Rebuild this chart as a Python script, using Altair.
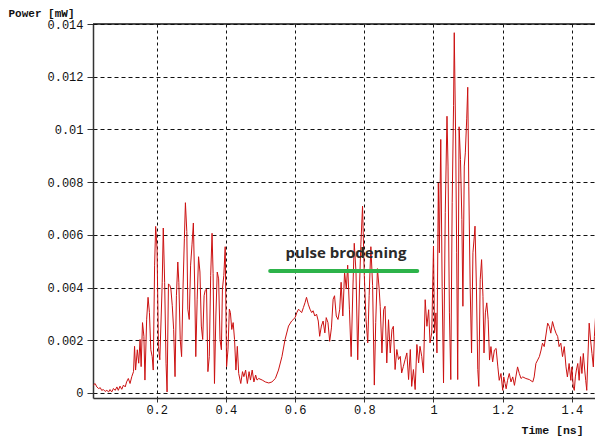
import altair as alt
import pandas as pd

# Time [ns] and power [µW], segment by segment
first_burst = [
    (0.017, 0.30), (0.022, 0.36), (0.027, 0.23), (0.032, 0.17), (0.037, 0.20), (0.041, 0.10),
    (0.046, 0.13), (0.051, 0.06), (0.056, 0.10), (0.061, 0.04), (0.065, 0.13), (0.070, 0.04),
    (0.075, 0.17), (0.080, 0.10), (0.085, 0.23), (0.089, 0.10), (0.094, 0.26), (0.099, 0.14),
    (0.104, 0.30), (0.109, 0.23), (0.113, 0.42), (0.118, 0.55), (0.123, 0.36), (0.128, 0.62),
    (0.133, 0.81), (0.136, 1.77), (0.139, 0.87), (0.144, 1.64), (0.148, 1.13), (0.152, 2.03),
    (0.155, 1.00), (0.159, 2.67), (0.163, 2.15), (0.166, 0.49), (0.171, 2.80), (0.175, 3.63),
    (0.179, 3.05), (0.183, 1.64), (0.187, 1.38), (0.190, 0.87), (0.194, 4.85), (0.197, 6.32),
    (0.201, 5.49), (0.205, 1.77), (0.209, 1.26), (0.213, 2.92), (0.216, 4.20), (0.219, 6.26),
    (0.223, 4.20), (0.227, 1.13), (0.230, 0.04), (0.234, 4.14), (0.238, 4.08), (0.241, 3.95),
    (0.245, 3.31), (0.249, 2.41), (0.253, 0.62), (0.257, 3.69), (0.261, 4.97), (0.264, 4.20),
    (0.268, 2.03), (0.272, 1.38), (0.276, 3.95), (0.280, 5.87), (0.283, 7.22), (0.287, 6.13),
    (0.290, 3.18), (0.294, 2.79), (0.298, 4.85), (0.302, 5.62), (0.306, 6.45), (0.310, 3.95),
    (0.313, 1.38), (0.317, 3.56), (0.321, 5.17), (0.325, 4.59), (0.329, 2.54), (0.333, 2.03),
    (0.337, 3.69), (0.340, 3.88), (0.344, 3.95), (0.348, 0.81), (0.352, 1.38), (0.356, 4.46),
    (0.360, 6.06), (0.363, 4.53), (0.367, 0.36), (0.371, 2.92), (0.375, 4.59), (0.379, 4.33),
    (0.383, 2.03), (0.387, 1.64), (0.390, 3.95), (0.394, 4.46), (0.398, 5.55), (0.402, 1.00),
    (0.406, 1.64), (0.410, 3.18), (0.413, 3.05), (0.417, 2.41), (0.421, 2.67), (0.425, 2.03),
    (0.429, 0.87), (0.433, 1.77), (0.437, 0.74),
]

broadened_pulse = [
    (0.443, 0.36), (0.448, 0.81), (0.452, 0.62), (0.457, 0.87), (0.462, 0.36), (0.467, 0.81),
    (0.471, 0.49), (0.476, 0.87), (0.481, 0.42), (0.486, 0.68), (0.490, 0.49), (0.495, 0.55),
    (0.505, 0.49), (0.514, 0.42), (0.524, 0.38), (0.533, 0.42), (0.543, 0.55), (0.552, 0.87),
    (0.562, 1.38), (0.571, 2.03), (0.581, 2.54), (0.590, 2.73), (0.600, 2.86), (0.605, 3.05),
    (0.610, 3.18), (0.614, 3.12), (0.619, 3.05), (0.624, 3.24), (0.629, 3.44), (0.633, 3.63),
    (0.638, 3.37), (0.643, 3.18), (0.648, 3.05), (0.652, 3.12), (0.657, 2.92), (0.662, 2.99),
    (0.667, 2.73), (0.671, 2.15), (0.676, 2.54), (0.681, 2.73), (0.686, 2.28), (0.690, 2.86),
    (0.695, 2.67), (0.700, 1.96), (0.705, 2.47), (0.710, 3.56), (0.714, 3.69), (0.719, 2.92),
    (0.724, 2.79), (0.729, 3.18), (0.733, 4.20), (0.738, 2.92), (0.743, 4.59), (0.748, 3.95),
    (0.752, 4.85), (0.757, 3.18), (0.762, 1.38), (0.767, 3.95), (0.771, 5.68), (0.776, 4.59),
    (0.781, 1.26), (0.786, 3.95), (0.790, 5.62), (0.795, 7.09), (0.800, 4.46), (0.805, 2.79),
    (0.810, 1.90), (0.814, 3.69), (0.819, 5.55), (0.824, 4.08), (0.829, 0.30), (0.833, 2.67),
    (0.838, 4.72), (0.843, 3.95),
]

main_burst = [
    (0.846, 3.29), (0.851, 1.52), (0.856, 3.16), (0.860, 3.29), (0.865, 1.14), (0.870, 2.78),
    (0.875, 1.52), (0.880, 2.41), (0.884, 2.53), (0.889, 0.89), (0.894, 1.65), (0.899, 1.27),
    (0.904, 1.39), (0.908, 0.76), (0.913, 1.01), (0.918, 1.27), (0.923, 1.52), (0.928, 0.51),
    (0.933, 1.65), (0.937, 0.25), (0.942, 0.89), (0.947, 0.13), (0.952, 1.84), (0.957, 1.14),
    (0.961, 1.77), (0.966, 1.39), (0.971, 0.76), (0.976, 3.54), (0.981, 2.53), (0.986, 3.16),
    (0.990, 1.90), (0.995, 2.28), (1.000, 5.57), (1.003, 2.28), (1.007, 3.04), (1.010, 1.52),
    (1.014, 7.97), (1.017, 5.32), (1.021, 9.62), (1.025, 4.05), (1.029, 0.38), (1.034, 6.84),
    (1.039, 10.5), (1.042, 8.61), (1.046, 3.04), (1.050, 0.51), (1.054, 7.22), (1.058, 10.9),
    (1.060, 13.67), (1.064, 9.75), (1.067, 5.32), (1.070, 0.51), (1.074, 10.1), (1.078, 8.86),
    (1.082, 6.58), (1.085, 3.29), (1.089, 8.61), (1.092, 9.11), (1.096, 10.4), (1.099, 11.6),
    (1.102, 7.85), (1.106, 4.05), (1.110, 1.52), (1.114, 5.32), (1.118, 5.95), (1.120, 6.33),
    (1.124, 4.05), (1.128, 0.89), (1.131, 0.25), (1.135, 4.30), (1.139, 5.06), (1.143, 3.67),
    (1.146, 1.52), (1.150, 3.04), (1.154, 3.42), (1.158, 2.78),
]

tail = [
    (1.162, 1.25), (1.166, 1.76), (1.171, 1.18), (1.176, 1.63), (1.181, 1.69), (1.186, 0.99),
    (1.190, 0.48), (1.195, 0.74), (1.200, 0.10), (1.203, 0.61), (1.207, 0.36), (1.210, 0.16),
    (1.214, 0.48), (1.219, 0.74), (1.224, 0.42), (1.229, 0.61), (1.234, 0.29), (1.238, 0.61),
    (1.243, 0.99), (1.248, 0.74), (1.253, 0.55), (1.258, 0.61), (1.267, 0.55), (1.277, 0.51),
    (1.287, 0.42), (1.291, 0.61), (1.296, 1.12), (1.301, 1.25), (1.306, 1.38), (1.311, 1.63),
    (1.315, 1.89), (1.320, 1.76), (1.325, 2.20), (1.330, 2.65), (1.335, 2.52), (1.339, 2.27),
    (1.344, 2.71), (1.349, 2.46), (1.354, 2.27), (1.359, 2.14), (1.363, 1.76), (1.368, 1.89),
    (1.373, 1.38), (1.378, 1.76), (1.383, 0.99), (1.387, 0.61), (1.392, 1.12), (1.397, 0.48),
    (1.400, 0.99), (1.404, 0.23), (1.407, 0.10), (1.410, 0.61), (1.413, 0.87), (1.417, 1.12),
    (1.421, 0.48), (1.425, 1.38), (1.429, 0.74), (1.433, 1.50), (1.437, 0.87), (1.440, 0.48),
    (1.443, 0.10), (1.446, 1.25), (1.450, 2.65), (1.454, 2.01), (1.458, 1.50), (1.462, 0.99),
    (1.465, 2.14), (1.469, 3.03), (1.472, 4.05), (1.475, 3.41), (1.479, 2.52), (1.483, 1.25),
    (1.487, 2.27), (1.495, 1.50),
]

x_ticks = [0.2, 0.4, 0.6, 0.8, 1.0, 1.2, 1.4]
y_ticks = [0, 0.002, 0.004, 0.006, 0.008, 0.01, 0.012, 0.014]

note_label = ["pulse brodening"]
note_time = [0.747]
note_power = [0.00532]
bar_start = [0.528]
bar_end = [0.953]
bar_power = [0.00463]

samples = first_burst + broadened_pulse + main_burst + tail
df = pd.DataFrame({
    "time": [t for t, _ in samples],
    "power": [p / 1000.0 for _, p in samples],  # µW -> mW
})

x_scale = alt.Scale(domain=[0.0159, 1.4668], nice=False, zero=False)
y_scale = alt.Scale(domain=[-0.00019, 0.014], nice=False, zero=False)

line = alt.Chart(df).mark_line(color="#cc1111", strokeWidth=1, clip=True).encode(
    x=alt.X("time:Q", scale=x_scale,
            axis=alt.Axis(values=x_ticks, format="~g", title="Time [ns]",
                          titleX=428, titleY=32, titleAlign="left", titleBaseline="middle",
                          titleFontSize=11.5, gridDash=[3, 3], tickSize=4, labelPadding=2)),
    y=alt.Y("power:Q", scale=y_scale,
            axis=alt.Axis(values=y_ticks, format="~g", title="Power [mW]",
                          titleAngle=0, titleX=-85, titleY=-11, titleAlign="left",
                          titleBaseline="middle", titleFontSize=11,
                          gridDash=[4, 3], tickSize=6, labelPadding=4)),
)

top_border = alt.Chart(pd.DataFrame({"p": [0.014]})).mark_rule(
    color="#111111", strokeWidth=1.5
).encode(y="p:Q")

bar = alt.Chart(pd.DataFrame({"t0": bar_start, "t1": bar_end, "p": bar_power})).mark_rule(
    color="#2db34a", strokeWidth=4, strokeCap="round"
).encode(x="t0:Q", x2="t1:Q", y="p:Q")

note = alt.Chart(pd.DataFrame({"t": note_time, "p": note_power, "label": note_label})).mark_text(
    font="Open Sans", fontSize=15, fontWeight="bold", color="#2a2a2a", align="center", baseline="middle"
).encode(x="t:Q", y="p:Q", text="label:N")

chart = alt.layer(line, top_border, bar, note).properties(
    width=502, height=374,
    padding={"left": 85, "top": 16, "right": 0, "bottom": 42},
    autosize=alt.AutoSizeParams(type="none"),
    background="white",
).configure_view(
    strokeWidth=0
).configure_axis(
    grid=True, gridColor="#111111", gridWidth=1, gridOpacity=1,
    domainColor="#333333", domainWidth=1.5, tickColor="#333333", tickWidth=1,
    labelFont="Liberation Mono", labelFontSize=12, labelColor="#111111",
    titleFont="Liberation Mono", titleFontSize=12, titleFontWeight="bold", titleColor="#111111",
)

chart.save("out.html", embed_options={"renderer": "svg", "actions": False})
